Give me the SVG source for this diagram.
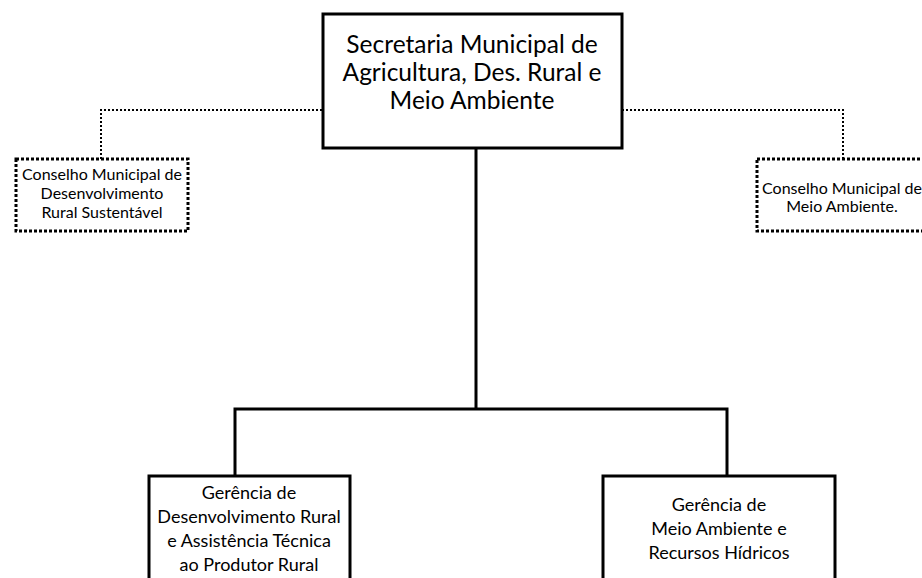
<svg xmlns="http://www.w3.org/2000/svg" width="922" height="578" viewBox="0 0 922 578">
<style>
.box{fill:#fff;stroke:#000;stroke-width:3}
.dbox{fill:#fff;stroke:#000;stroke-width:3;stroke-dasharray:3 2}
.solid{fill:none;stroke:#000;stroke-width:3}
.dot{fill:none;stroke:#000;stroke-width:2;stroke-dasharray:2 2}
text{font-family:Lato,"Liberation Sans",sans-serif;fill:#000;text-anchor:middle}
.t1{font-size:24.5px}
.t2{font-size:16px}
.t3{font-size:18px}
</style>
<rect width="922" height="578" fill="#fff"/>
<g id="connectors">
<path class="dot" d="M322,110 H101 V159"/>
<path class="dot" d="M622,110 H843 V159"/>
<path class="solid" d="M476,148 V409"/>
<path class="solid" d="M235,476 V409 H727 V476"/>
</g>
<g id="secretaria">
<rect class="box" x="323" y="14" width="299" height="134"/>
<text class="t1" x="472" y="53">Secretaria Municipal de</text>
<text class="t1" x="472" y="81">Agricultura, Des. Rural e</text>
<text class="t1" x="472" y="109">Meio Ambiente</text>
</g>
<g id="conselho-rural">
<rect class="dbox" x="16" y="159" width="172" height="72"/>
<text class="t2" x="102" y="180">Conselho Municipal de</text>
<text class="t2" x="102" y="199">Desenvolvimento</text>
<text class="t2" x="102" y="218">Rural Sustentável</text>
</g>
<g id="conselho-ambiente">
<rect class="dbox" x="757" y="159" width="180" height="72"/>
<text class="t2" x="842" y="194">Conselho Municipal de</text>
<text class="t2" x="842" y="212">Meio Ambiente.</text>
</g>
<g id="gerencia-rural">
<rect class="box" x="149" y="476" width="201" height="110"/>
<text class="t3" x="249" y="499">Gerência de</text>
<text class="t3" x="249" y="523">Desenvolvimento Rural</text>
<text class="t3" x="249" y="547">e Assistência Técnica</text>
<text class="t3" x="249" y="571">ao Produtor Rural</text>
</g>
<g id="gerencia-ambiente">
<rect class="box" x="603" y="476" width="232" height="110"/>
<text class="t3" x="719" y="511">Gerência de</text>
<text class="t3" x="719" y="535">Meio Ambiente e</text>
<text class="t3" x="719" y="559">Recursos Hídricos</text>
</g>
</svg>
